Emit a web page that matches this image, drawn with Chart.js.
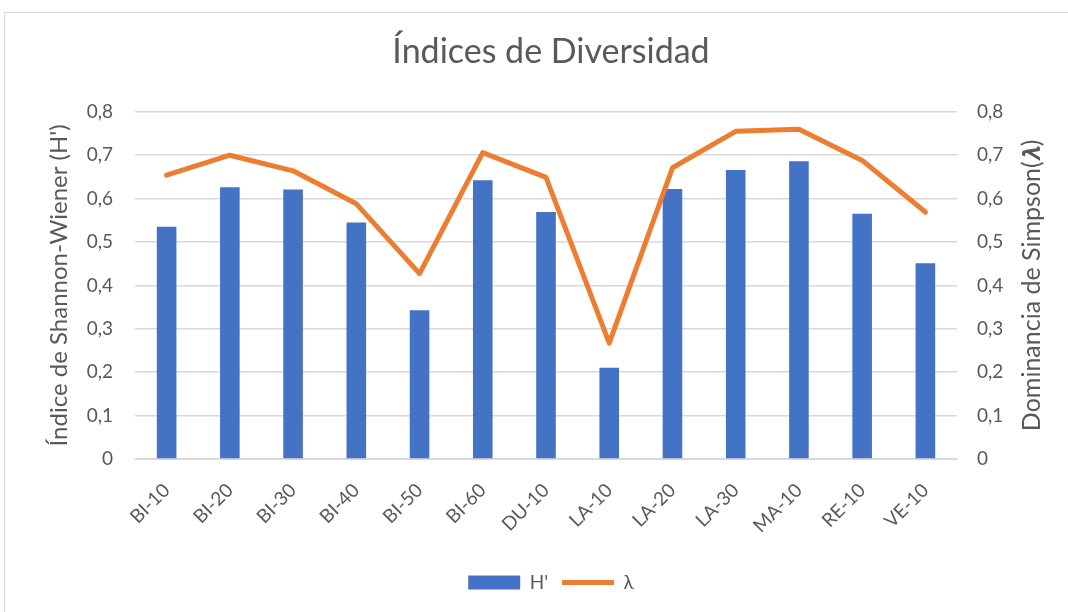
<!DOCTYPE html>
<html>
<head>
<meta charset="utf-8">
<script src="https://cdn.jsdelivr.net/npm/chart.js@4.4.1/dist/chart.umd.min.js"></script>
<style>
  html, body { margin: 0; padding: 0; background: #fff; }
  #frame {
    position: absolute; left: 4px; top: 12px; width: 1100px; height: 640px;
    border: 1px solid #d9d9d9; box-sizing: border-box;
  }
  #wrap { position: absolute; left: 0; top: 0; width: 1068px; height: 612px; }
</style>
</head>
<body>
<div id="frame"></div>
<div id="wrap"><canvas id="chart" width="1068" height="612"></canvas></div>
<script>
const categories = ["BI-10", "BI-20", "BI-30", "BI-40", "BI-50", "BI-60", "DU-10",
  "LA-10", "LA-20", "LA-30", "MA-10", "RE-10", "VE-10"];
const shannonValues = [0.535, 0.626, 0.621, 0.545, 0.343, 0.642, 0.569,
  0.210, 0.622, 0.666, 0.686, 0.565, 0.451];
const simpsonValues = [0.654, 0.700, 0.664, 0.588, 0.427, 0.706, 0.649,
  0.267, 0.671, 0.755, 0.760, 0.688, 0.569];

const FONT = "Lato, 'Open Sans', sans-serif";
const GREY = "#595959";
const rightTitle = "Dominancia de Simpson(𝝀)";

// excel style tick text: 0,1 0,2 ...
const fmtTick = (v) => (v === 0 ? "0" : v.toFixed(1).replace(".", ","));

// chart.js turns right-hand titles the other way, excel reads bottom-up on both sides
const rightTitlePlugin = {
  id: "rightTitle",
  afterDraw(chart) {
    const { ctx, chartArea } = chart;
    const sc = chart.scales.y1;
    ctx.save();
    ctx.translate(sc.right - 36, (chartArea.top + chartArea.bottom) / 2);
    ctx.rotate(-Math.PI / 2);
    ctx.font = "25px " + FONT;
    ctx.fillStyle = GREY;
    ctx.textAlign = "center";
    ctx.textBaseline = "middle";
    ctx.fillText(rightTitle, 0, 0);
    ctx.restore();
  },
};

new Chart(document.getElementById("chart"), {
  type: "bar",
  data: {
    labels: categories,
    datasets: [
      {
        label: "H'",
        data: shannonValues,
        backgroundColor: "#4472C4",
        yAxisID: "y",
        order: 1,
        pointStyle: "rect",
        barPercentage: 0.31,
        categoryPercentage: 1,
      },
      {
        type: "line",
        label: "λ",
        data: simpsonValues,
        borderColor: "#ED7D31",
        backgroundColor: "#ED7D31",
        borderWidth: 5,
        pointRadius: 0,
        borderCapStyle: "round",
        borderJoinStyle: "round",
        pointStyle: "line",
        yAxisID: "y1",
        order: 0,
      },
    ],
  },
  options: {
    responsive: false,
    animation: false,
    layout: { padding: { top: 0, bottom: 10, left: 34, right: 0 } },
    plugins: {
      title: {
        display: true,
        text: "Índices de Diversidad",
        color: GREY,
        font: { family: FONT, size: 34, weight: "normal" },
        padding: { top: 32, bottom: 39 },
      },
      legend: {
        position: "bottom",
        labels: {
          usePointStyle: true,
          pointStyleWidth: 52,
          boxHeight: 14,
          color: GREY,
          font: { family: FONT, size: 19 },
          padding: 14,
          sort: (a, b) => a.datasetIndex - b.datasetIndex,
        },
      },
      tooltip: { enabled: false },
    },
    scales: {
      x: {
        grid: { display: false },
        border: { color: "#d9d9d9" },
        ticks: {
          color: GREY,
          font: { family: FONT, size: 19 },
          minRotation: 45,
          maxRotation: 45,
          padding: 12,
        },
        afterFit: (scale) => { scale.height = 100; },
      },
      y: {
        position: "left",
        min: 0,
        max: 0.8,
        ticks: {
          stepSize: 0.1,
          color: GREY,
          font: { family: FONT, size: 19 },
          padding: 22,
          callback: fmtTick,
        },
        grid: { color: "#d9d9d9", lineWidth: 1.5, drawTicks: false },
        border: { display: false },
        title: {
          display: true,
          text: "Índice de Shannon-Wiener (H')",
          color: GREY,
          font: { family: FONT, size: 24 },
          padding: { top: 11, bottom: 0 },
        },
        afterFit: (scale) => { scale.width = 101; },
      },
      y1: {
        position: "right",
        min: 0,
        max: 0.8,
        ticks: {
          stepSize: 0.1,
          color: GREY,
          font: { family: FONT, size: 19 },
          padding: 20,
          callback: fmtTick,
        },
        grid: { display: false, drawTicks: false },
        border: { display: false },
        afterFit: (scale) => { scale.width = 111; },
      },
    },
  },
  plugins: [rightTitlePlugin],
});
</script>
</body>
</html>
